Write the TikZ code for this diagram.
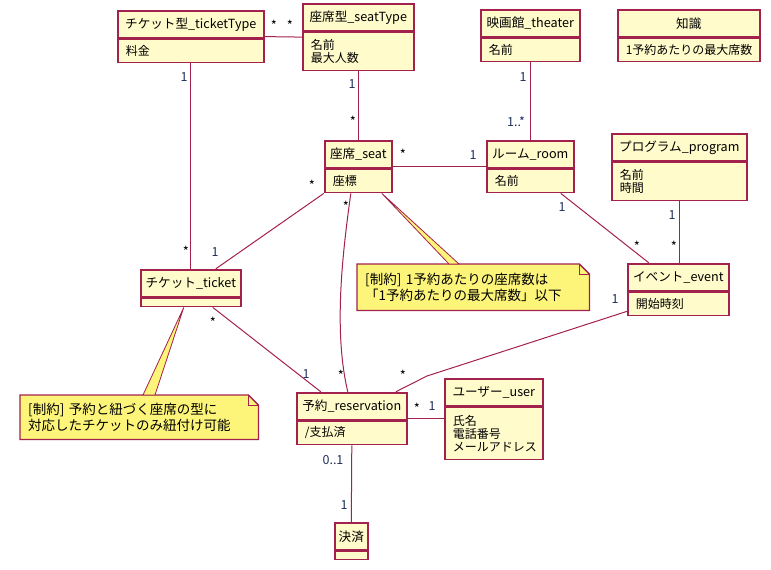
\documentclass[tikz,border=0pt]{standalone}
\usepackage{fontspec}
\setmainfont{Noto Sans CJK JP}
\usetikzlibrary{calc,fit,backgrounds}
\definecolor{bordc}{HTML}{A3214D}
\definecolor{boxc}{HTML}{FFFBCB}
\definecolor{notec}{HTML}{FDF57A}
\definecolor{numc}{HTML}{1E2D5C}
\tikzset{
  hd/.style={draw=bordc, fill=boxc, line width=1.6pt, minimum height=27pt, inner sep=0pt,
    anchor=north west, font=\fontsize{12.6}{14}\selectfont},
  bd/.style={draw=bordc, fill=boxc, line width=1.6pt, inner xsep=8pt, inner ysep=2pt,
    align=left, anchor=north west, font=\fontsize{12}{13}\selectfont},
  conn/.style={draw=bordc, line width=1pt},
  mult/.style={inner sep=0pt, font=\fontsize{12.5}{12}\selectfont, text=numc},
  star/.style={inner sep=0pt, font=\fontsize{13}{12}\selectfont, text=black, yshift=-2.5pt},
  notetext/.style={inner xsep=8pt, inner ysep=0pt, align=left, anchor=north west,
    font=\fontsize{13.5}{15.5}\selectfont},
  notebox/.style={draw=bordc, fill=notec, line width=1.3pt},
  wedge/.style={draw=bordc, fill=notec, line width=0.8pt}
}
\newcommand{\umlclass}[7]{%
  \pgfmathsetmacro{\umltw}{#4-16}%
  \node[hd, minimum width=#4pt] (#1h) at (#2,#3) {#5};
  \node[bd, minimum width=#4pt, text width=\umltw pt, minimum height=#7pt] (#1b) at (#1h.south west) {#6};
  \node[fit=(#1h)(#1b), inner sep=0pt] (#1) {};
}
\newcommand{\umlnote}[6]{% name,x,y,w,h,text
  \pgfmathsetmacro{\umltw}{#4-16}%
  \node[notetext, minimum width=#4pt, minimum height=#5pt, text width=\umltw pt] (#1) at (#2,#3) {#6};
  \begin{scope}[on background layer]
    \draw[notebox] (#1.north west) -- ($(#1.north east)+(-10,0)$) -- ($(#1.north east)+(0,10)$)
      -- (#1.south east) -- (#1.south west) -- cycle;
    \draw[draw=bordc, line width=0.8pt] ($(#1.north east)+(-10,0)$) -- ++(0,10) -- ++(10,0);
  \end{scope}
}
\begin{document}
\begin{tikzpicture}[x=1pt,y=-1pt]
\useasboundingbox (0,0) rectangle (771,570);

\coordinate (bendA) at (427,376);

% classes
\umlclass{tt}{117}{10}{146}{チケット型\_ticketType}{料金}{23}
\umlclass{st}{302}{3}{111}{座席型\_seatType}{名前\\最大人数}{38}
\umlclass{th}{480}{9}{99}{映画館\_theater}{名前}{23}
\umlclass{kn}{617}{9}{142}{知識}{1予約あたりの最大席数}{23}
\umlclass{seat}{324}{140}{67}{座席\_seat}{座標}{23}
\umlclass{room}{486}{140}{87}{ルーム\_room}{名前}{23}
\umlclass{pg}{611}{133}{135}{プログラム\_program}{名前\\時間}{38}
\umlclass{ev}{627}{263}{101}{イベント\_event}{開始時刻}{23}
\umlclass{tk}{140}{269}{100}{チケット\_ticket}{}{8}
\umlclass{res}{296}{392}{110}{予約\_reservation}{/支払済}{23}
\umlclass{user}{444}{378}{98}{ユーザー\_user}{氏名\\電話番号\\メールアドレス}{52}
\umlclass{pay}{334}{522}{33}{決済}{}{8}

% associations
\begin{scope}[on background layer]
\draw[conn] (tt.east) -- (st.west);
\draw[conn] (tt.south) -- (tk.north);
\draw[conn] (st.south) -- (seat.north);
\draw[conn] (th.south) -- (room.north);
\draw[conn] (seat.east) -- (room.west);
\draw[conn] (seat.south west) -- ($(tk.north)+(25,0)$);
\draw[conn] ($(seat.south)+(-7.5,0)$) .. controls (343,250) and (333,330) .. ($(res.north)+(-4,0)$);
\draw[conn] ($(room.south)+(30.5,0)$) -- ($(ev.north)+(-29.5,0)$);
\draw[conn] (pg.south) -- (pg.south |- ev.north);
\draw[conn] ($(tk.south)+(22,0)$) -- ($(res.north)+(-31,0)$);
\draw[conn] ($(ev.south west)+(0,-5)$) -- (bendA) -- ($(res.north)+(44,0)$);
\draw[conn] (res.east) -- (res.east -| user.west);
\draw[conn] (res.south) -- (pay.north);
\end{scope}

% notes
\umlnote{n1}{357}{264}{232}{46}{[制約] 1予約あたりの座席数は\\「1予約あたりの最大席数」以下}
\umlnote{n2}{20}{395}{238}{44}{[制約] 予約と紐づく座席の型に\\対応したチケットのみ紐付け可能}
\draw[wedge] ($(seat.south)+(23.5,0)$) -- ($(n1.north west)+(92,0)$) -- ($(n1.north west)+(102,0)$) -- cycle;
\draw[wedge] ($(tk.south)+(-7,0)$) -- ($(n2.north west)+(123,0)$) -- ($(n2.north west)+(135,0)$) -- cycle;

% multiplicities
\node[star] at (274,23) {*};
\node[star] at (290,23) {*};
\node[mult] at (184,77) {1};
\node[star] at (186,249) {*};
\node[mult] at (352,84) {1};
\node[star] at (353,119) {*};
\node[mult] at (523,77) {1};
\node[mult] at (516,122) {1..*};
\node[star] at (403,152) {*};
\node[mult] at (473,155) {1};
\node[star] at (312,183) {*};
\node[mult] at (215,252) {1};
\node[star] at (346,204) {*};
\node[star] at (341,373) {*};
\node[mult] at (562,207) {1};
\node[star] at (637,244) {*};
\node[mult] at (672,215) {1};
\node[star] at (674,244) {*};
\node[mult] at (615,299) {1};
\node[star] at (403,373) {*};
\node[star] at (213,320) {*};
\node[mult] at (306,374) {1};
\node[star] at (417,406) {*};
\node[mult] at (432,406) {1};
\node[mult] at (333,460) {0..1};
\node[mult] at (344,505) {1};
\end{tikzpicture}
\end{document}
